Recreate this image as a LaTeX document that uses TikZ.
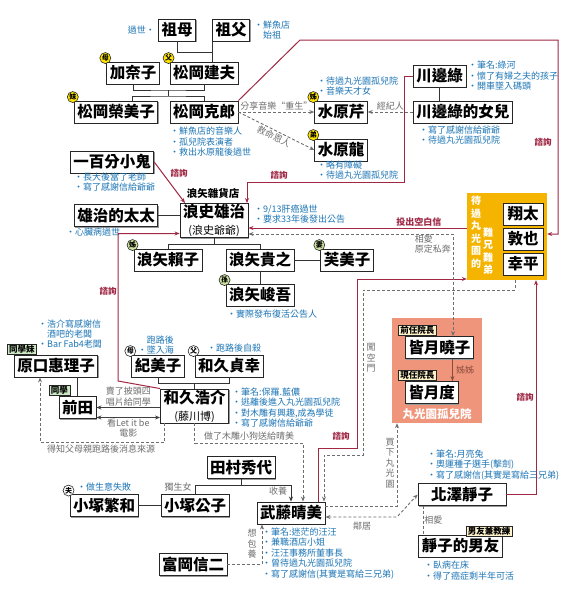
\documentclass[tikz,border=0pt]{standalone}
\usepackage{fontspec}
\setmainfont{Noto Sans CJK TC}
\usetikzlibrary{arrows.meta, positioning, shadows}
\definecolor{noteblue}{HTML}{1C75B5}
\definecolor{askred}{HTML}{A02845}
\definecolor{relgray}{HTML}{6E6E6E}
\definecolor{gold}{HTML}{F4B400}
\definecolor{salmon}{HTML}{EF957C}
\definecolor{badgeyellow}{HTML}{FFE500}
\definecolor{badgegreen}{HTML}{CFE3A0}
\definecolor{taggreen}{HTML}{CDE8C4}
\definecolor{tagbeige}{HTML}{FFF3CC}
\definecolor{sisbrown}{HTML}{8A4B3C}
\newcommand{\namefont}{\fontsize{15.5}{17}\selectfont\bfseries}
\newcommand{\notefont}{\fontsize{9}{10.5}\selectfont}
\newcommand{\subname}{\fontsize{11}{12}\selectfont\mdseries}
\tikzset{
    person/.style={rectangle, draw=black!85, fill=white, line width=0.9pt, font=\namefont,
                   inner xsep=3pt, inner ysep=0pt, minimum height=22pt,
                   drop shadow={shadow xshift=1pt, shadow yshift=-1pt, fill=black!40, opacity=1}},
    twoline/.style={person, align=center, minimum height=34pt},
    note/.style={text=noteblue, font=\notefont, align=left, inner sep=0pt, anchor=west},
    badge/.style={circle, draw=black!85, fill=badgeyellow, line width=0.6pt, inner sep=0pt,
                  minimum size=11pt, font=\fontsize{7}{7}\selectfont\bfseries},
    greenbadge/.style={badge, fill=badgegreen},
    whitebadge/.style={badge, fill=white},
    tag/.style={rectangle, draw=black!85, fill=tagbeige, line width=0.6pt, inner xsep=2pt,
                inner ysep=1pt, font=\fontsize{8.5}{9}\selectfont\bfseries},
    greentag/.style={tag, fill=taggreen},
    vtext/.style={text=white, font=\fontsize{10}{12.5}\selectfont\bfseries, align=center, inner sep=0pt},
    kin/.style={draw=black!80, line width=0.8pt},
    kinarr/.style={kin, -{Stealth[length=5pt, width=4pt]}},
    link/.style={draw=black!75, line width=0.8pt, -{Stealth[length=5pt, width=4pt]}},
    both/.style={{Stealth[length=5pt, width=4pt]}-{Stealth[length=5pt, width=4pt]}},
    ask/.style={draw=askred, line width=1pt, -{Stealth[length=5pt, width=4pt]}},
    asklabel/.style={text=askred, font=\fontsize{8.5}{9}\selectfont\bfseries, inner sep=1pt},
    rel/.style={draw=relgray, line width=0.9pt, dash pattern=on 3pt off 2pt, -{Stealth[length=5pt, width=4pt]}},
    reldash/.style={draw=relgray, line width=0.9pt, dash pattern=on 3pt off 2pt},
    rellabel/.style={text=relgray, font=\notefont, inner sep=1pt, align=center},
    sis/.style={draw=sisbrown, line width=0.8pt, -{Stealth[length=5pt, width=4pt]}},
}

\begin{document}
\begin{tikzpicture}[x=1pt, y=-1pt]

  \fill[white] (0,0) rectangle (576,600);
  \useasboundingbox (0,0) rectangle (576,600);

  \node[rectangle, fill=gold, minimum width=80pt, minimum height=87pt] (brothers) at (507,236.5) {};
  \node[rectangle, fill=salmon, minimum width=90pt, minimum height=105pt] (orphanage) at (437,370.5) {};

  \node[person] (zumu) at (177,30) {祖母};
  \node[person] (zufu) at (231,30) {祖父};
  \node[note, anchor=east] at (155,30) {過世•};
  \node[note, align=center] at (254,30) {•鮮魚店\\始祖};

  \node[person] (kanako) at (133,73) {加奈子};
  \node[person] (takeo) at (204,73) {松岡建夫};
  \node[person] (emiko) at (116,112) {松岡榮美子};
  \node[person] (katsuro) at (204,112) {松岡克郎};
  \node[note] at (170,142) {•鮮魚店的音樂人\\•孤兒院表演者\\•救出水原龍後過世};

  \node[badge] at ([xshift=-1pt, yshift=3.5pt]kanako.north west) {母};
  \node[badge] at ([xshift=-1pt, yshift=3.5pt]takeo.north west) {父};
  \node[badge] at ([xshift=-1pt, yshift=3.5pt]emiko.north west) {妹};

  \coordinate (gp) at (212,52);
  \draw[kin] (zumu.south) |- (gp);
  \draw[kin] (zufu.south -| gp) -- (takeo.north -| gp);
  \coordinate (pa) at (168,90);
  \draw[kin] (kanako.south) |- (pa) -| (takeo.south);
  \draw[kin] (pa) -- ++(0,6) coordinate (pb);
  \draw[kin] ([xshift=16pt]emiko.north) |- (pb) -| (katsuro.north);

  \node[person] (seri) at (341,112) {水原芹};
  \node[person] (ryu) at (341,150) {水原龍};
  \node[badge] at ([xshift=-1pt, yshift=3.5pt]seri.north west) {姊};
  \node[badge] at ([xshift=-1pt, yshift=3.5pt]ryu.north west) {弟};
  \node[note] at (317,86) {•待過丸光園孤兒院\\•音樂天才女};
  \node[note] at (317,170) {•略有障礙\\•待過丸光園孤兒院};

  \node[person, anchor=west] (midori) at (413,76) {川邊綠};
  \node[person, anchor=west] (daughter) at (413,112) {川邊綠的女兒};
  \node[note] at (468,76) {•筆名:綠河\\•懷了有婦之夫的孩子\\•開車墜入碼頭};
  \node[note] at (419,135) {•寫了感謝信給爺爺\\•待過丸光園孤兒院};
  \draw[kin] (midori.south) -- (midori.south |- daughter.north);

  \draw[rel] (katsuro.east) -- node[rellabel, above] {分享音樂“重生”} (seri.west);
  \draw[rel] (katsuro.east) -- node[rellabel, sloped, below] {救命恩人} (ryu.west);
  \draw[rel] (daughter.west) -- node[rellabel, above] {經紀人} (seri.east);

  \node[person] (kid) at (112,162) {一百分小鬼};
  \node[note] at (74,182) {•長大後當了老師\\•寫了感謝信給爺爺};

  \node[font=\fontsize{10.5}{11}\selectfont\bfseries] (shop) at (213,193) {浪矢雜貨店};
  \node[twoline] (yuji) at (214,220.5) {浪史雄治\\{\subname(浪史爺爺)}};
  \node[note] at (254,214) {•9/13肝癌過世\\•要求33年後發出公告};
  \node[person] (wife) at (116,215.5) {雄治的太太};
  \node[note] at (66,232) {•心臟病過世};
  \draw[kin] (wife.east) -- (wife.east -| yuji.west);

  \node[person] (yoriko) at (168,260) {浪矢賴子};
  \node[person] (takayuki) at (260,260) {浪矢貴之};
  \node[person] (fumiko) at (347,260) {芙美子};
  \node[person] (shungo) at (260,295) {浪矢峻吾};
  \node[greenbadge] at ([xshift=-1pt, yshift=3.5pt]yoriko.north west) {姊};
  \node[greenbadge] at ([xshift=-1pt, yshift=3.5pt]fumiko.north west) {妻};
  \node[greenbadge] at ([xshift=-1pt, yshift=3.5pt]shungo.north west) {孫};
  \node[note] at (227,314) {•實際發布復活公告人};
  \draw[kin] (yuji.south) -- ++(0,6) coordinate (ya);
  \draw[kin] (yoriko.north) |- (ya) -| (takayuki.north);
  \draw[kin] (takayuki) -- (fumiko);
  \draw[kin] (takayuki) -- (shungo);

  \node[person, minimum width=40pt] (shota) at (523,214) {翔太};
  \node[person, minimum width=40pt] (atsuya) at (523,239) {敦也};
  \node[person, minimum width=40pt] (kohei) at (523,264) {幸平};
  \node[vtext] at (476,232) {待\\過\\丸\\光\\園\\的};
  \node[vtext] at (488,251) {難\\兄\\難\\弟};

  \node[person, anchor=west] (akiko) at (405,347.5) {皆月曉子};
  \node[person, anchor=west] (wataru) at (405,392.5) {皆月度};
  \node[tag, anchor=south west] at ([xshift=-7pt]akiko.north west) {前任院長};
  \node[tag, anchor=south west] at ([xshift=-7pt]wataru.north west) {現任院長};
  \coordinate (ak1) at ([xshift=13pt]akiko.south);
  \draw[sis] (ak1) -- node[text=sisbrown, font=\notefont, right] {姊姊} (ak1 |- wataru.north);
  \node[text=white, font=\fontsize{11.5}{12}\selectfont\bfseries] at (437,414) {丸光園孤兒院};

  \node[person] (eriko) at (56,366) {原口惠理子};
  \node[person] (maeda) at (77.5,407.5) {前田};
  \node[greentag, anchor=south west] at ([xshift=-7pt]eriko.north west) {同學妹};
  \node[greentag, anchor=south west] at ([xshift=-10pt]maeda.north west) {同學};
  \node[note] at (38,329) {•浩介寫感謝信\\\hphantom{•}酒吧的老闆};
  \node[note] at (38,344) {•Bar Fab4老闆};
  \draw[kin] (maeda.north) -- (maeda.north |- eriko.south);

  \node[person] (kimiko) at (158,366) {紀美子};
  \node[person] (sadayuki) at (229,366) {和久貞幸};
  \node[whitebadge] at ([xshift=-1pt, yshift=3.5pt]kimiko.north west) {母};
  \node[whitebadge] at ([xshift=-1pt, yshift=3.5pt]sadayuki.north west) {父};
  \node[note, anchor=east, align=right] at (174,345) {跑路後\\•墜入海};
  \node[note] at (207,348) {•跑路後自殺};
  \node[twoline] (kosuke) at (194.5,406) {和久浩介\\{\subname(藤川博)}};
  \node[note] at (232,407.5) {•筆名:保羅.藍儂\\•逃離後進入丸光園孤兒院\\•對木雕有興趣,成為學徒\\•寫了感謝信給爺爺};
  \draw[kin] (kimiko.south) -- ++(0,6) -| (sadayuki.south);
  \draw[kin] (kosuke.north) -- ++(0,-6);

  \draw[link] (kosuke.west |- maeda.east) -- node[rellabel, above] {賣了披頭四\\唱片給同學} (maeda.east);
  \coordinate (m1) at ([yshift=-10pt]maeda.east);
  \draw[link, both] (m1) -- node[rellabel, below] {看Let it be\\電影} (m1 -| kosuke.west);
  \draw[rel] ([xshift=-30pt]kosuke.south) -- ++(0,19) -| ([xshift=-16pt]eriko.south);
  \node[rellabel] at (101,449) {得知父母親跑路後消息來源};

  \node[person] (tamura) at (241,467.5) {田村秀代};
  \node[person] (kozuka) at (195,505.5) {小塚公子};
  \node[person] (shigekazu) at (104,505.5) {小塚繁和};
  \node[whitebadge] at ([xshift=-1pt, yshift=3.5pt]shigekazu.north west) {夫};
  \node[note] at (77,487) {•做生意失敗};
  \node[person] (harumi) at (291,513) {武藤晴美};
  \node[note] at (262,553.5) {•筆名:迷茫的汪汪\\•兼職酒店小姐\\•汪汪事務所董事長\\•曾待過丸光園孤兒院\\•寫了感謝信(其實是寫給三兄弟)};
  \node[person] (tomioka) at (193,564.5) {富岡信二};
  \draw[kin] (shigekazu) -- (kozuka);
  \draw[kin] (tamura.south) -- ++(0,6) coordinate (ta);
  \draw[kin] (kozuka.north) |- (ta);
  \draw[kinarr] (ta) -| (harumi.north);
  \node[rellabel] at (178,487) {獨生女};
  \node[rellabel] at (278,491) {收養};

  \draw[rel] (kosuke.south) -- ++(0,20) -| ([xshift=12pt]harumi.north);
  \node[rellabel] at (249,436) {做了木雕小狗送給晴美};
  \draw[rel] (tomioka.east) -| ([xshift=-29pt]harumi.south);
  \node[rellabel] at (252,544) {想\\包\\養};

  \node[person, minimum width=88pt] (shizuko) at (462,494.5) {北澤靜子};
  \node[note] at (427,465) {•筆名:月亮兔\\•奧運種子選手(擊劍)\\•寫了感謝信(其實是寫給三兄弟)};
  \node[person] (boyfriend) at (460.5,546) {靜子的男友};
  \node[tag, anchor=south east] at ([xshift=10pt, yshift=-2pt]boyfriend.north east) {男友兼教練};
  \node[note] at (424,570.5) {•臥病在床\\•得了癌症剩半年可活};
  \coordinate (s1) at ([xshift=-39pt]shizuko.south);
  \draw[reldash] (s1) -- node[rellabel, right] {相愛} (s1 |- boyfriend.north);

  \coordinate (h1) at ([yshift=7pt]harumi.east);
  \draw[rel] (h1) -| ([xshift=-40pt]orphanage.south);
  \node[rellabel] at (390,463) {買\\下\\丸\\光\\園};
  \coordinate (h2) at ([yshift=-4pt]harumi.east);
  \coordinate (nb) at (397,517);
  \draw[rel, both] (h2) -- (nb) -- (shizuko.west);
  \node[rellabel] at (362,526) {鄰居};

  \coordinate (kr1) at (300,40);
  \coordinate (kr2) at (558,234);
  \draw[ask] (katsuro.north east) -- (kr1) -| (kr2) -- (kr2 -| brothers.east);
  \node[asklabel] at (543,142) {諮詢};
  \coordinate (mr1) at (404,182);
  \draw[ask] (midori.west) -| (mr1) -| ([xshift=33pt]yuji.north);
  \node[asklabel] at (279,175) {諮詢};
  \draw[ask] (kid.east) -- ([xshift=-29pt]yuji.north);
  \node[asklabel] at (179,173) {諮詢};
  \coordinate (kr3) at (118,381);
  \draw[ask] (kosuke.north west) -- (kr3) |- ([yshift=-13pt]yuji.west);
  \node[asklabel] at (108,291) {諮詢};
  \draw[ask] (brothers.west |- 0,228) -- node[asklabel, above, pos=0.22, font=\fontsize{9}{10}\selectfont\bfseries] {投出空白信} (yuji.east |- 0,228);
  \coordinate (hr1) at (357,448);
  \draw[ask] ([xshift=27pt]harumi.north) |- (hr1) |- (brothers.west |- 0,279);
  \node[asklabel] at (341,436) {諮詢};
  \draw[ask] (shizuko.east) -| ([xshift=29pt]brothers.south);
  \node[asklabel] at (525,397) {諮詢};

  \draw[rel, both] (yuji.east |- 0,234) -| (akiko.north -| 453,0);
  \node[rellabel, anchor=east, align=left] at (452,244) {相愛\\原定私奔};
  \coordinate (bd1) at (363,290);
  \coordinate (bd2) at (363,455);
  \draw[rel] ([xshift=8pt]brothers.south) |- (bd1) -- (bd2) -| ([xshift=33pt]harumi.north);
  \node[rellabel] at (371,358) {闖\\空\\門};

\end{tikzpicture}
\end{document}
